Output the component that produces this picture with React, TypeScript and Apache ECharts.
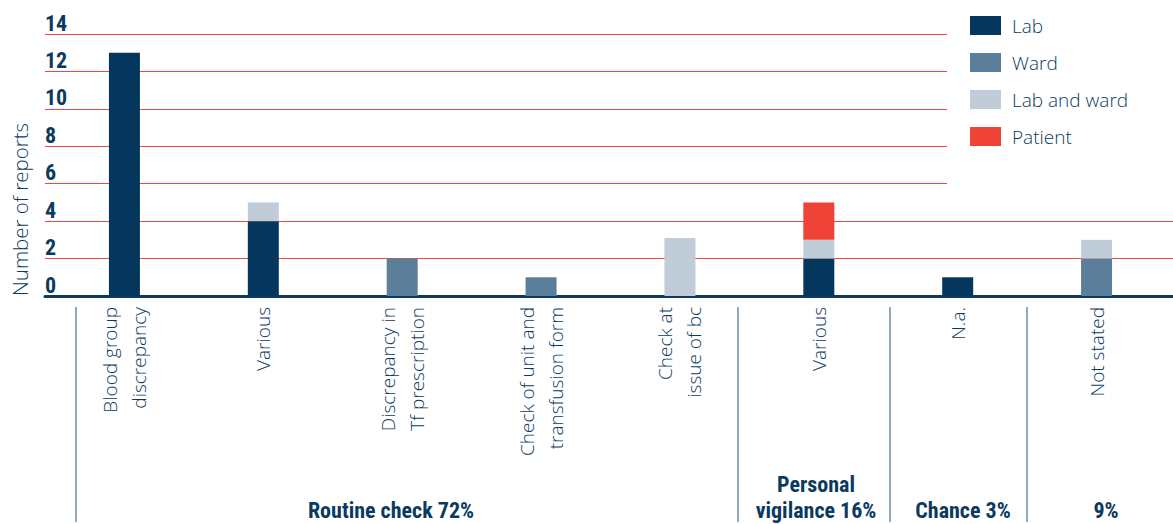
import React, { useEffect, useRef } from "react";
import * as echarts from "echarts";

const categories = [
  "Blood group\ndiscrepancy",
  "Various",
  "Discrepancy in\nTf prescription",
  "Check of unit and\ntransfusion form",
  "Check at\nissue of bc",
  "Various",
  "N.a.",
  "Not stated",
];
const lab = [13, 4, 0, 0, 0, 2, 1, 0];
const ward = [0, 0, 2, 1, 0, 0, 0, 2];
const labAndWard = [0, 1, 0, 0, 3.1, 1, 0, 1];
const patient = [0, 0, 0, 0, 0, 2, 0, 0];
const seriesNames = ["Lab", "Ward", "Lab and ward", "Patient"];
const seriesColors = ["#05375e", "#5b7f9a", "#c0cdd8", "#f04337"];
const groupLabels = ["Routine check 72%", "Personal\nvigilance 16%", "Chance 3%", "9%"];

const NAVY = "#0c3a5f";
const LIGHT = "'Open Sans', 'Noto Sans', sans-serif";
const BOLD = "'Roboto Condensed', 'Liberation Sans Narrow', Roboto, sans-serif";

export default function App() {
  const ref = useRef<HTMLDivElement>(null);
  useEffect(() => {
    const chart = echarts.init(ref.current!, null, { renderer: "svg" });
    const data = [lab, ward, labAndWard, patient];
    const groupX = [391, 816, 963, 1106];
    const sepX = [76, 738, 890, 1027];
    chart.setOption({
      animation: false,
      legend: {
        orient: "vertical",
        left: 970,
        top: 16,
        padding: 0,
        itemWidth: 31,
        itemHeight: 19,
        itemGap: 18,
        icon: "rect",
        z: 20,
        textStyle: {
          fontFamily: LIGHT,
          fontSize: 19,
          fontWeight: 300,
          color: NAVY,
          lineHeight: 19,
          padding: [0, 0, 0, 6],
        },
        data: seriesNames,
      },
      grid: [
        { left: 45, right: 0, top: 34, height: 262 },
        { left: 55, width: 1111, top: 34, height: 262 },
      ],
      xAxis: [
        {
          gridIndex: 0,
          type: "value",
          min: 0,
          max: 1,
          axisLine: { show: true, lineStyle: { color: NAVY, width: 3 } },
          axisTick: { show: false },
          axisLabel: { show: false },
          splitLine: { show: false },
        },
        {
          gridIndex: 1,
          type: "category",
          data: categories,
          axisLine: { show: false },
          axisTick: { show: false },
          axisLabel: {
            rotate: 90,
            margin: 11,
            interval: 0,
            fontFamily: LIGHT,
            fontSize: 19,
            fontWeight: 300,
            lineHeight: 29,
            color: NAVY,
          },
        },
      ],
      yAxis: [
        {
          gridIndex: 0,
          type: "value",
          min: 0,
          max: 14,
          interval: 2,
          axisLine: { show: false },
          axisTick: { show: false },
          axisLabel: {
            inside: true,
            margin: 0,
            verticalAlign: "bottom",
            fontFamily: BOLD,
            fontWeight: "bold",
            fontSize: 22,
            color: NAVY,
          },
          splitLine: { lineStyle: { color: "#ef4a3e", width: 1 } },
        },
        {
          gridIndex: 1,
          type: "value",
          min: 0,
          max: 14,
          show: false,
        },
      ],
      series: seriesNames.map((name, i) => ({
        name,
        type: "bar",
        stack: "total",
        xAxisIndex: 1,
        yAxisIndex: 1,
        barWidth: 31,
        itemStyle: { color: seriesColors[i] },
        data: data[i],
      })),
      graphic: [
        {
          type: "rect",
          z: 1,
          shape: { x: 947, y: 20, width: 226, height: 172 },
          style: { fill: "#ffffff" },
        },
        {
          type: "text",
          x: 20,
          y: 296,
          rotation: Math.PI / 2,
          style: {
            text: "Number of reports",
            fontFamily: LIGHT,
            fontSize: 20.5,
            fontWeight: 300,
            fill: NAVY,
            align: "left",
            verticalAlign: "middle",
          },
        },
        ...sepX.map((x) => ({
          type: "line",
          shape: { x1: x, y1: 307, x2: x, y2: 522 },
          style: { stroke: "#6d8ca4", lineWidth: 1.5 },
        })),
        ...groupLabels.map((t, i) => ({
          type: "text",
          x: groupX[i],
          y: 523,
          style: {
            text: t,
            fontFamily: BOLD,
            fontWeight: "bold",
            fontSize: 22,
            lineHeight: 26,
            fill: NAVY,
            align: "center",
            verticalAlign: "bottom",
          },
        })),
      ],
    });
    return () => chart.dispose();
  }, []);
  return <div ref={ref} style={{ width: 1173, height: 524, position: "absolute", left: 0, top: 0 }} />;
}
